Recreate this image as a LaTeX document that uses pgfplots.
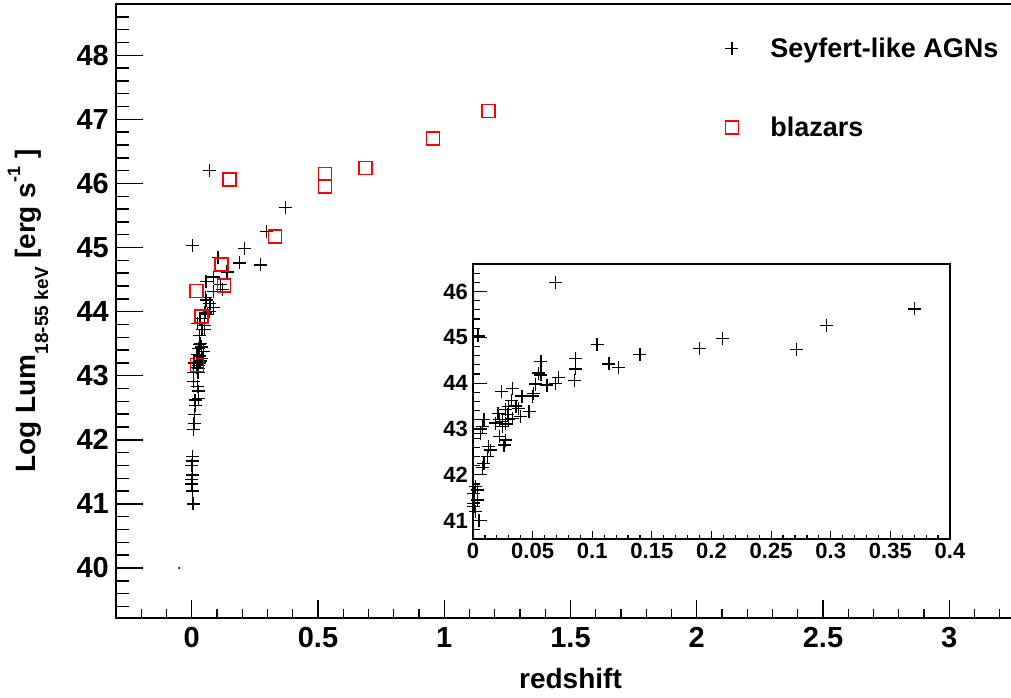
\documentclass[border=0pt]{standalone}
\usepackage{pgfplots}
\pgfplotsset{compat=1.18}
\usepackage{pgfplotstable}
\usepackage{fontspec}
\setmainfont{Liberation Sans}

\pgfplotstableread{
z L
0.0694 46.20
0.0042 45.03
0.104 44.84
0.140 44.62
0.114 44.42
0.122 44.35
0.086 44.54
0.086 44.31
0.085 44.06
0.057 44.47
0.055 44.22
0.057 44.18
0.072 44.13
0.0694 44.00
0.062 43.96
0.0526 43.98
0.051 43.78
0.050 43.72
0.041 43.72
0.033 43.89
0.024 43.82
0.032 43.63
0.036 43.50
0.038 43.45
0.030 43.49
0.027 43.42
0.047 43.38
0.040 43.27
0.029 43.31
0.021 43.33
0.022 43.20
0.019 43.13
0.025 43.16
0.027 43.11
0.030 43.20
0.033 43.23
0.025 43.05
0.022 42.83
0.027 42.76
0.026 42.65
0.0092 43.20
0.0078 43.05
0.0064 42.91
0.013 42.62
0.015 42.54
0.012 42.40
0.0092 42.25
0.0078 42.16
0.0022 41.74
0.0036 41.67
0.0008 41.38
0.0036 41.45
0.0008 41.31
0.0022 41.20
0.005 41.00
0.0008 41.60
0.190 44.76
0.2095 44.98
0.271 44.73
0.2967 45.25
0.370 45.62
}\seyfert

\pgfplotstableread{
z L
0.150 46.06
0.329 45.17
0.118 44.74
0.128 44.41
0.019 44.32
0.038 43.92
0.020 43.17
0.527 46.15
0.527 45.95
0.688 46.24
0.956 46.70
1.176 47.13
}\blazar

\newcommand{\bigf}{\fontsize{28}{28}\selectfont\bfseries}
\newcommand{\legf}{\fontsize{27}{27}\selectfont\bfseries}
\newcommand{\tickf}{\fontsize{29}{29}\selectfont\bfseries}
\newcommand{\insf}{\fontsize{22}{22}\selectfont\bfseries}

\pgfplotsset{
  mainax/.style={
    at={(116pt,79pt)}, anchor=south west, scale only axis,
    width=909pt, height=614pt,
    xmin=-0.3, xmax=3.3, ymin=39.22, ymax=48.8,
    axis line style={line width=1.8pt},
    tick style={line width=1.4pt, black},
    tick align=inside,
    xtick pos=bottom, ytick pos=left,
    /pgf/number format/assume math mode=true,
  },
  insax/.style={
    at={(473pt,158pt)}, anchor=south west, scale only axis,
    width=477pt, height=275pt,
    xmin=0, xmax=0.4, ymin=40.6, ymax=46.6,
    axis line style={line width=1.6pt},
    tick style={line width=1.2pt, black},
    tick align=inside,
    xtick pos=bottom, ytick pos=left,
    /pgf/number format/assume math mode=true,
  },
}

\begin{document}
\begin{tikzpicture}[x=1pt,y=1pt]
\path[use as bounding box] (0,0) rectangle (1011,697);
\clip (0,0) rectangle (1011,697);

% main axis: data + y ticks
\begin{axis}[mainax,
    xtick=\empty,
    ytick={40,41,...,48},
    minor ytick={39.4,39.6,...,48.8},
    major tick length=27pt, minor tick length=13pt,
    yticklabel style={font=\tickf, anchor=east, inner sep=0pt, xshift=-7pt},
    ylabel={Log Lum\raisebox{-0.45em}{\fontsize{19}{19}\selectfont 18-55 keV} [erg s\raisebox{0.55em}{\fontsize{18}{18}\selectfont -1} ]},
    y label style={font=\bigf, at={(axis description cs:-0.0968,0.5)}, anchor=center},
    legend style={draw=none, fill=none, at={(rel axis cs:0.6702,0.945)}, anchor=north west,
      font=\legf, row sep=58pt, inner sep=0pt,
      nodes={inner sep=0pt},
      /tikz/every odd column/.append style={column sep=32pt}},
    legend cell align=left,
    legend image code/.code={\draw[#1] plot coordinates {(0pt,0pt)};},
  ]
  \addplot[only marks, mark=+, mark size=6.5pt, line width=1.3pt, black] table[x=z,y=L] {\seyfert};
  \addlegendentry{Seyfert-like AGNs}
  \addplot[only marks, mark=square, mark size=6.5pt, line width=1.6pt, red] table[x=z,y=L] {\blazar};
  \addlegendentry{blazars}
  \addplot[only marks, mark=*, mark size=0.8pt, black, forget plot] coordinates {(-0.05,40.0)};
\end{axis}

% main axis: x ticks
\begin{axis}[mainax,
    ytick=\empty,
    xtick={0,0.5,...,3},
    xticklabels={0,0.5,1,1.5,2,2.5,3},
    minor xtick={-0.2,-0.1,...,3.3},
    major tick length=18pt, minor tick length=9pt,
    xticklabel style={font=\tickf, anchor=north, inner sep=0pt, yshift=-9pt},
    xlabel={redshift},
    x label style={font=\bigf, at={(axis description cs:0.5,-0.0993)}, anchor=center},
  ]
\end{axis}

% inset: data + y ticks
\begin{axis}[insax,
    axis background/.style={fill=white},
    xtick=\empty,
    ytick={41,42,...,46},
    minor ytick={40.6,40.8,...,46.6},
    major tick length=14pt, minor tick length=7pt,
    yticklabel style={font=\insf, anchor=east, inner sep=0pt, xshift=-5pt},
  ]
  \addplot[only marks, mark=+, mark size=6.5pt, line width=1.2pt, black] table[x=z,y=L] {\seyfert};
\end{axis}

% inset: x ticks
\begin{axis}[insax,
    ytick=\empty,
    xtick={0,0.05,0.1,0.15,0.2,0.25,0.3,0.35,0.4},
    xticklabels={0,0.05,0.1,0.15,0.2,0.25,0.3,0.35,0.4},
    minor xtick={0.01,0.02,...,0.4},
    major tick length=8pt, minor tick length=4pt,
    xticklabel style={font=\insf, anchor=north, inner sep=0pt, yshift=-4pt},
  ]
\end{axis}
\end{tikzpicture}
\end{document}
